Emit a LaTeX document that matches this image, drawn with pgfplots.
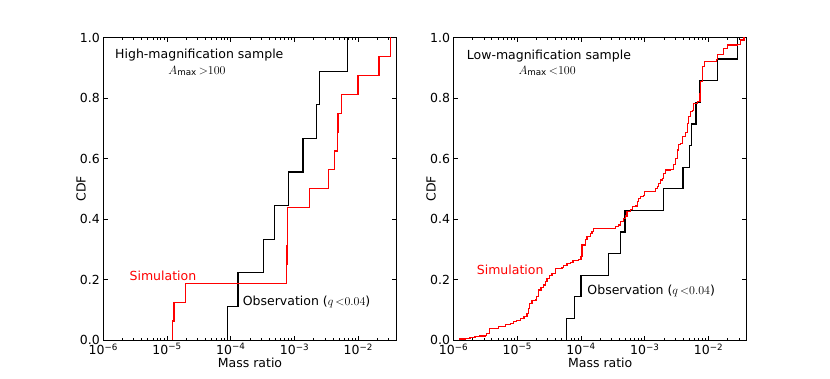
\documentclass[border=0pt]{standalone}
\usepackage{fontspec}
\setmainfont{DejaVu Sans}
\usepackage{pgfplots}
\pgfplotsset{compat=1.18}

\newcommand{\lbl}{\fontsize{12.5}{14.5}\selectfont}

\pgfplotsset{
  every axis/.append style={
    scale only axis, width=293.4pt, height=302.5pt,
    xmin=1e-6, xmax=0.04, ymin=0, ymax=1,
    xtick={1e-6,1e-5,1e-4,1e-3,1e-2},
    xticklabels={10\textsuperscript{−6},10\textsuperscript{−5},10\textsuperscript{−4},10\textsuperscript{−3},10\textsuperscript{−2}},
    minor xtick={2e-6,3e-6,4e-6,5e-6,6e-6,7e-6,8e-6,9e-6,
                 2e-5,3e-5,4e-5,5e-5,6e-5,7e-5,8e-5,9e-5,
                 2e-4,3e-4,4e-4,5e-4,6e-4,7e-4,8e-4,9e-4,
                 2e-3,3e-3,4e-3,5e-3,6e-3,7e-3,8e-3,9e-3,
                 2e-2,3e-2},
    ytick={0,0.2,0.4,0.6,0.8,1},
    yticklabels={0.0,0.2,0.4,0.6,0.8,1.0},
    tick align=inside, xtick pos=both, ytick pos=both,
    major tick length=4.5pt, minor tick length=2.2pt,
    tick style={black, line width=0.8pt},
    axis line style={line width=1pt},
    tick label style={font=\lbl},
    label style={font=\lbl},
    xlabel={Mass ratio}, ylabel={CDF},
    x label style={at={(axis description cs:0.5,-0.075)}, anchor=center},
    y label style={at={(axis description cs:-0.076,0.5)}, anchor=center},
  },
  every node/.append style={},
}
\tikzset{note/.style={anchor=base west, inner sep=0pt, font=\lbl}}

\begin{document}
\begin{tikzpicture}
\path[use as bounding box] (-103.3pt,-38pt) rectangle (726.7pt,340pt);

% high magnification
\begin{semilogxaxis}[at={(0pt,0pt)}, anchor=south west]
\addplot[black, line width=1.2pt, const plot] coordinates {
(9.0e-5,0) (9.0e-5,0.1111) (1.30e-4,0.2222) (3.28e-4,0.3333) (4.89e-4,0.4444)
(7.93e-4,0.5556) (1.36e-3,0.6667) (2.21e-3,0.7778) (2.46e-3,0.8889) (6.86e-3,1.0)
};
\addplot[red, line width=1.2pt, const plot] coordinates {
(1.23e-5,0) (1.23e-5,0.0625) (1.29e-5,0.125) (1.93e-5,0.1875) (7.38e-4,0.25)
(7.6e-4,0.3125) (7.65e-4,0.375) (7.7e-4,0.4375) (1.73e-3,0.5) (3.45e-3,0.5625)
(4.29e-3,0.625) (4.75e-3,0.6875) (4.8e-3,0.75) (5.46e-3,0.8125) (9.86e-3,0.875)
(2.11e-2,0.9375) (3.22e-2,1.0)
};
\node[note] at (axis description cs:0.040,0.929) {High-magnification sample};
\node[note] at (axis description cs:0.2215,0.879) {$A_{\max}\,{>}100$};
\node[note, text=red] at (axis description cs:0.089,0.198) {Simulation};
\node[note] at (axis description cs:0.475,0.1157) {Observation ($q\,{<}0.04$)};
\end{semilogxaxis}

% low magnification
\begin{semilogxaxis}[at={(350.2pt,0pt)}, anchor=south west]
\addplot[black, line width=1.2pt, const plot] coordinates {
(5.88e-5,0) (5.88e-5,0.0714) (7.95e-5,0.1429) (1.0e-4,0.2143) (2.72e-4,0.2857)
(4.15e-4,0.3571) (4.89e-4,0.4286) (1.95e-3,0.5) (3.99e-3,0.5714) (5.10e-3,0.6429)
(5.46e-3,0.7143) (6.38e-3,0.7857) (7.33e-3,0.8571) (1.365e-2,0.9286) (2.84e-2,1.0)
};
\addplot[red, line width=1.2pt, const plot] coordinates {
(1.233e-6,0) (1.233e-6,0.003) (1.517e-6,0.005) (1.816e-6,0.009) (2.18e-6,0.011)
(2.61e-6,0.013) (3.13e-6,0.016) (3.33e-6,0.022) (3.66e-6,0.037) (5.06e-6,0.044)
(6.46e-6,0.052) (7.73e-6,0.055) (8.71e-6,0.061) (9.86e-6,0.064) (1.11e-5,0.072)
(1.28e-5,0.077) (1.42e-5,0.088) (1.50e-5,0.105) (1.54e-5,0.121) (1.70e-5,0.130)
(1.91e-5,0.132) (2.03e-5,0.145) (2.15e-5,0.165) (2.35e-5,0.174) (2.58e-5,0.182)
(2.75e-5,0.193) (2.92e-5,0.204) (3.21e-5,0.212) (3.50e-5,0.220) (3.94e-5,0.237)
(5.02e-5,0.240) (5.32e-5,0.246) (6.03e-5,0.253) (6.79e-5,0.256) (7.48e-5,0.264)
(9.16e-5,0.267) (1.00e-4,0.275) (1.04e-4,0.314) (1.17e-4,0.331) (1.24e-4,0.341)
(1.40e-4,0.353) (1.49e-4,0.358) (1.58e-4,0.369) (3.46e-4,0.375) (3.90e-4,0.380)
(4.15e-4,0.391) (4.68e-4,0.402) (4.98e-4,0.410) (5.28e-4,0.424) (5.96e-4,0.432)
(6.34e-4,0.441) (7.14e-4,0.443) (7.59e-4,0.457) (8.05e-4,0.468) (8.55e-4,0.474)
(9.64e-4,0.479) (1.00e-3,0.490) (1.48e-3,0.500) (1.57e-3,0.507) (1.66e-3,0.518)
(1.77e-3,0.529) (1.88e-3,0.535) (1.99e-3,0.551) (2.11e-3,0.562) (2.54e-3,0.564)
(2.82e-3,0.580) (3.04e-3,0.600) (3.23e-3,0.628) (3.43e-3,0.645) (3.64e-3,0.650)
(3.87e-3,0.672) (4.37e-3,0.686) (4.65e-3,0.716) (4.92e-3,0.738) (5.24e-3,0.755)
(5.56e-3,0.760) (5.89e-3,0.782) (6.67e-3,0.788) (7.33e-3,0.816) (7.52e-3,0.854)
(7.98e-3,0.903) (8.69e-3,0.920) (1.34e-2,0.928) (1.39e-2,0.945) (1.73e-2,0.964)
(2.00e-2,0.975) (2.84e-2,0.978) (3.20e-2,0.992) (3.61e-2,1.0)
};
\node[note] at (axis description cs:0.045,0.928) {Low-magnification sample};
\node[note] at (axis description cs:0.221,0.879) {$A_{\max}\,{<}100$};
\node[note, text=red] at (axis description cs:0.079,0.218) {Simulation};
\node[note] at (axis description cs:0.456,0.152) {Observation ($q\,{<}0.04$)};
\end{semilogxaxis}
\end{tikzpicture}
\end{document}
